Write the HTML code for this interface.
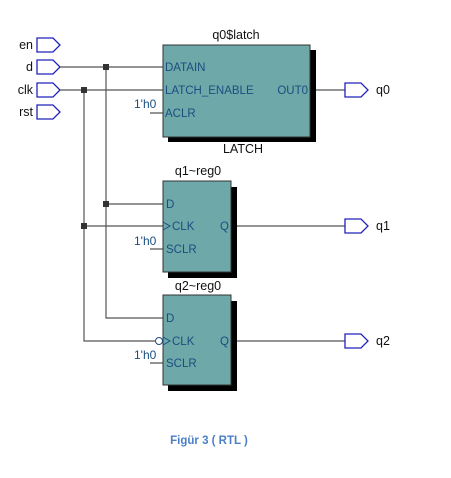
<!DOCTYPE html>
<html><head><style>body{margin:0;background:#fff}svg{display:block}</style></head>
<body>
<svg width="451" height="478" viewBox="0 0 451 478" xmlns="http://www.w3.org/2000/svg" font-family="Liberation Sans, Arial, sans-serif">
<defs>
<path id="pin" d="M0,-7 H16 L23,0 L16,7 H0 Z" fill="#fff" stroke="#2222bb" stroke-width="1.3"/>
</defs>
<g font-size="12.5" fill="#111" text-anchor="end">
<text x="33" y="49">en</text><text x="33" y="71">d</text><text x="33" y="94">clk</text><text x="33" y="116">rst</text>
</g>
<use href="#pin" x="37" y="45"/><use href="#pin" x="37" y="67"/><use href="#pin" x="37" y="90"/><use href="#pin" x="37" y="112"/>
<g stroke="#555" stroke-width="1.2" fill="none">
<path d="M60,67 H163 M60,90 H163 M106,67 V318 H163 M84,90 V341 H155 M106,204 H163 M84,226 H163 M150,113 H163 M150,249 H163 M150,363 H163"/>
<path d="M310,90 H345 M231,226 H345 M231,341 H345"/>
</g>
<g fill="#333"><rect x="103" y="64" width="6" height="6"/><rect x="81" y="87" width="6" height="6"/><rect x="103" y="201" width="6" height="6"/><rect x="81" y="223" width="6" height="6"/></g>
<rect x="168" y="50" width="148" height="92" fill="#000"/>
<rect x="163" y="45" width="147" height="92" fill="#6fa8a8" stroke="#333" stroke-width="1"/>
<text x="236" y="39" font-size="12.5" text-anchor="middle" fill="#111">q0$latch</text>
<text x="243" y="153" font-size="12.5" text-anchor="middle" fill="#111">LATCH</text>
<g font-size="11.5" fill="#1a4e80">
<text x="165" y="71">DATAIN</text><text x="165" y="94">LATCH_ENABLE</text><text x="165" y="117">ACLR</text>
<text x="308" y="94" text-anchor="end">OUT0</text>
<text x="134" y="108" font-size="12">1'h0</text>
</g>
<rect x="168" y="187" width="69" height="91" fill="#000"/>
<rect x="163" y="181" width="68" height="91" fill="#6fa8a8" stroke="#333"/>
<text x="198" y="175" font-size="12.5" text-anchor="middle" fill="#111">q1~reg0</text>
<g font-size="11.5" fill="#1a4e80">
<text x="166" y="208">D</text><text x="172" y="230">CLK</text><text x="166" y="253">SCLR</text><text x="229" y="230" text-anchor="end">Q</text>
<text x="134" y="245" font-size="12">1'h0</text>
</g>
<path d="M163,222 L170,226 L163,230" fill="none" stroke="#1a4e80"/>
<rect x="168" y="301" width="69" height="90" fill="#000"/>
<rect x="163" y="295" width="68" height="90" fill="#6fa8a8" stroke="#333"/>
<text x="198" y="290" font-size="12.5" text-anchor="middle" fill="#111">q2~reg0</text>
<g font-size="11.5" fill="#1a4e80">
<text x="166" y="322">D</text><text x="172" y="345">CLK</text><text x="166" y="367">SCLR</text><text x="229" y="345" text-anchor="end">Q</text>
<text x="134" y="359" font-size="12">1'h0</text>
</g>
<circle cx="159" cy="341" r="3.5" fill="#fff" stroke="#1a4e80"/>
<path d="M163,337 L170,341 L163,345" fill="none" stroke="#1a4e80"/>
<use href="#pin" x="345" y="90"/><use href="#pin" x="345" y="226"/><use href="#pin" x="345" y="341"/>
<g font-size="12.5" fill="#111"><text x="376" y="94">q0</text><text x="376" y="230">q1</text><text x="376" y="345">q2</text></g>
<text x="209" y="444" font-size="11.5" font-weight="bold" text-anchor="middle" fill="#4a7fc8">Figür 3 ( RTL )</text>
</svg>
</body></html>
